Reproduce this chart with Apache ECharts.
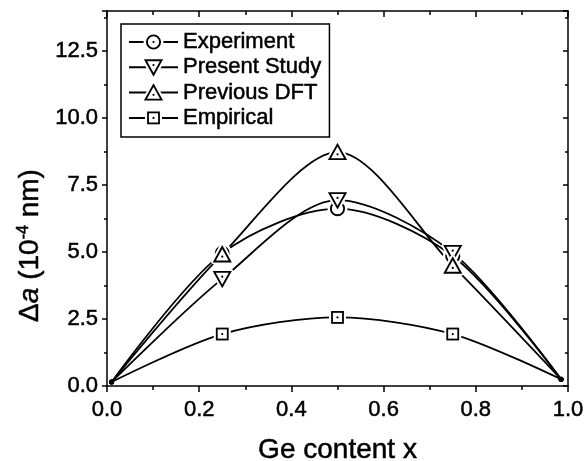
<!DOCTYPE html>
<html><head><meta charset="utf-8">
<script src="https://cdn.jsdelivr.net/npm/echarts@6/dist/echarts.min.js"></script>
<style>html,body{margin:0;padding:0;background:#fff}#c{width:585px;height:461px}</style>
</head><body><div id="c"></div>
<script>
// ---- data ----
const xValues      = [0.01, 0.25, 0.5, 0.75, 0.985];
const experiment   = [0.15, 4.95, 6.62, 4.85, 0.25];
const presentStudy = [0.15, 4.00, 6.94, 4.97, 0.25];
const previousDFT  = [0.15, 4.91, 8.73, 4.49, 0.25];
const empirical    = [0.15, 1.94, 2.56, 1.94, 0.25];
const seriesNames  = ['Experiment', 'Present Study', 'Previous DFT', 'Empirical'];
const seriesValues = [experiment, presentStudy, previousDFT, empirical];

const FONT = "'Liberation Sans', Arial, sans-serif";
const heavy = { textBorderColor: '#000', textBorderWidth: 0.5 };

function svgSym(halo, inner) {
  const s = '<svg xmlns="http://www.w3.org/2000/svg" width="24" height="24" viewBox="0 0 24 24">' + halo + inner + '</svg>';
  return 'image://data:image/svg+xml;charset=utf-8,' + encodeURIComponent(s);
}
const symbols = [
  svgSym('<circle cx="12" cy="12" r="10" fill="#fff"/>',
         '<circle cx="12" cy="12" r="6.6" fill="#fff" stroke="#000" stroke-width="1.9"/><circle cx="12" cy="12" r="1.1" fill="#000"/>'),
  svgSym('<polygon points="4,5 20,5 12,19.5" fill="#fff" stroke="#fff" stroke-width="6" stroke-linejoin="round"/>',
         '<polygon points="4,5 20,5 12,19.5" fill="#fff" stroke="#000" stroke-width="1.9"/><circle cx="12" cy="9.8" r="1.1" fill="#000"/>'),
  svgSym('<polygon points="12,4.5 4,19 20,19" fill="#fff" stroke="#fff" stroke-width="6" stroke-linejoin="round"/>',
         '<polygon points="12,4.5 4,19 20,19" fill="#fff" stroke="#000" stroke-width="1.9"/><circle cx="12" cy="14.2" r="1.1" fill="#000"/>'),
  svgSym('<rect x="6.5" y="6.5" width="11" height="11" fill="#fff" stroke="#fff" stroke-width="6"/>',
         '<rect x="6.5" y="6.5" width="11" height="11" fill="#fff" stroke="#000" stroke-width="1.8"/><circle cx="12" cy="12" r="1.1" fill="#000"/>')
];

const series = seriesNames.map((name, k) => ({
  name: name,
  type: 'line',
  smooth: 0.3,
  symbol: symbols[k],
  symbolSize: 24,
  lineStyle: { color: '#000', width: 1.8 },
  itemStyle: { color: '#000' },
  data: xValues.map((x, i) => {
    const item = { value: [x, seriesValues[k][i]] };
    if (i === 0 || i === xValues.length - 1) {
      item.symbol = 'circle'; item.symbolSize = 5;
    }
    return item;
  })
}));

const axisLine = { show: true, onZero: false, lineStyle: { color: '#000', width: 1.5 } };
const tickStyle = { color: '#000', width: 1.5 };

const chart = echarts.init(document.getElementById('c'), null, { renderer: 'canvas' });
chart.setOption({
  animation: false,
  backgroundColor: '#fff',
  grid: { left: 107, right: 17, top: 11, bottom: 75, containLabel: false, outerBoundsMode: 'none' },
  legend: {
    orient: 'vertical',
    left: 121, top: 24,
    padding: [6, 8, 7, 7],
    borderColor: '#000', borderWidth: 1.5,
    itemWidth: 49, itemHeight: 30, itemGap: 1.3,
    textStyle: Object.assign({ fontFamily: FONT, fontSize: 22, color: '#000', lineHeight: 22 }, heavy),
    data: seriesNames
  },
  xAxis: [{
    type: 'value', min: 0, max: 1, interval: 0.2, position: 'bottom',
    axisLine: axisLine,
    axisTick: { show: true, inside: false, length: 6, lineStyle: tickStyle },
    minorTick: { show: true, splitNumber: 2, length: 4, lineStyle: tickStyle },
    axisLabel: Object.assign({ fontFamily: FONT, fontSize: 22, color: '#000', margin: 13,
                 formatter: v => v.toFixed(1) }, heavy),
    splitLine: { show: false },
    name: 'Ge content x', nameLocation: 'middle', nameGap: 50,
    nameTextStyle: Object.assign({ fontFamily: FONT, fontSize: 28, color: '#000' }, heavy)
  }, {
    type: 'value', min: 0, max: 1, interval: 0.2, position: 'top',
    axisLine: axisLine,
    axisTick: { show: true, inside: true, length: 6, lineStyle: tickStyle },
    minorTick: { show: true, splitNumber: 2, length: 4, lineStyle: tickStyle },
    axisLabel: { show: false }, splitLine: { show: false }
  }],
  yAxis: [{
    type: 'value', min: 0, max: 14, interval: 2.5, position: 'left',
    axisLine: axisLine,
    axisTick: { show: true, inside: false, length: 5, lineStyle: tickStyle },
    minorTick: { show: true, splitNumber: 2, length: 3, lineStyle: tickStyle },
    axisLabel: Object.assign({ fontFamily: FONT, fontSize: 22, color: '#000', margin: 9, showMaxLabel: false,
                 formatter: v => (v > 13 ? '' : v.toFixed(1)) }, heavy),
    splitLine: { show: false },
    name: '{t|Δ}{i|a}{t| (10}{s|-4}{t| nm)}', nameLocation: 'middle', nameGap: 59, nameRotate: 90,
    nameTextStyle: {
      fontFamily: FONT, fontSize: 28, color: '#000', padding: [0, 94, 0, 0],
      rich: {
        t: Object.assign({ fontFamily: FONT, fontSize: 28, color: '#000' }, heavy),
        i: Object.assign({ fontFamily: FONT, fontSize: 28, color: '#000', fontStyle: 'italic' }, heavy),
        s: Object.assign({ fontFamily: FONT, fontSize: 16, color: '#000', padding: [0, 0, 13, 0] }, heavy)
      }
    }
  }, {
    type: 'value', min: 0, max: 14, interval: 2.5, position: 'right',
    axisLine: axisLine,
    axisTick: { show: true, inside: true, length: 5, lineStyle: tickStyle },
    minorTick: { show: true, splitNumber: 2, length: 3, lineStyle: tickStyle },
    axisLabel: { show: false }, splitLine: { show: false }
  }],
  series: series
});
</script>
</body></html>
